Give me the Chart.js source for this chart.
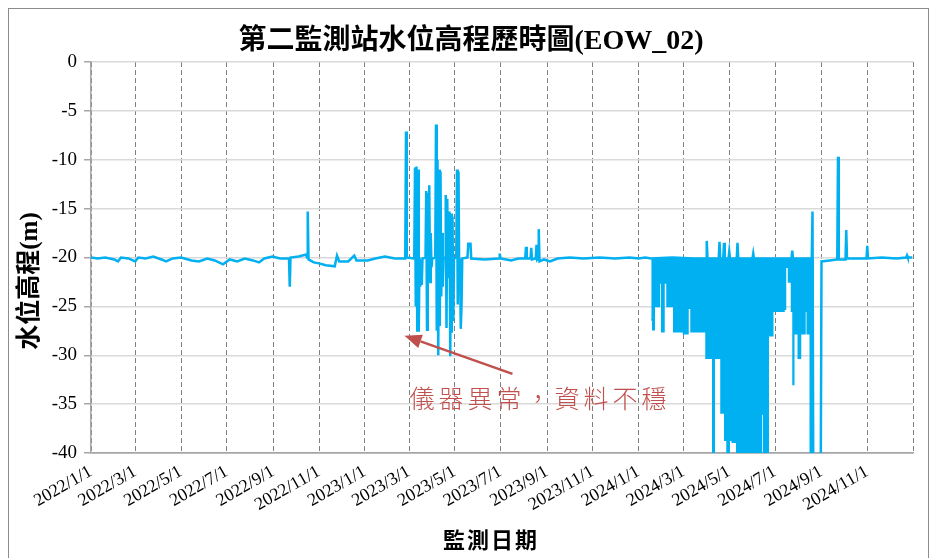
<!DOCTYPE html>
<html>
<head>
<meta charset="utf-8">
<script src="https://cdn.jsdelivr.net/npm/chart.js@4.4.1/dist/chart.umd.min.js"></script>
<style>
  html, body { margin: 0; padding: 0; background: #fff; }
  #wrap { position: relative; width: 934px; height: 558px; overflow: hidden; }
  #frame { position: absolute; left: 8px; top: 8px; width: 921px; height: 600px; border: 1px solid #8c8c8c; box-sizing: border-box; }
  canvas { position: absolute; left: 0; top: 0; }
</style>
</head>
<body>
<div id="wrap">
  <div id="frame"></div>
  <canvas id="wl" width="934" height="558"></canvas>
</div>
<script>
// EOW_02 water level record, 2022-2024
const monthTicks = ['2022/1/1', '2022/3/1', '2022/5/1', '2022/7/1', '2022/9/1', '2022/11/1',
  '2023/1/1', '2023/3/1', '2023/5/1', '2023/7/1', '2023/9/1', '2023/11/1',
  '2024/1/1', '2024/3/1', '2024/5/1', '2024/7/1', '2024/9/1', '2024/11/1', '2025/1/1'];

const dates2022 = [
  '2022-01-01', '2022-01-10', '2022-01-20', '2022-02-01', '2022-02-06', '2022-02-10', '2022-02-20',
  '2022-03-01', '2022-03-05', '2022-03-15', '2022-03-25', '2022-04-05', '2022-04-11', '2022-04-20',
  '2022-05-01', '2022-05-15', '2022-05-25', '2022-06-05', '2022-06-15', '2022-06-26', '2022-07-05',
  '2022-07-15', '2022-07-25', '2022-08-05', '2022-08-13', '2022-08-20', '2022-08-31', '2022-09-10',
  '2022-09-22', '2022-09-23', '2022-09-24', '2022-10-05', '2022-10-15', '2022-10-16', '2022-10-17',
  '2022-10-18', '2022-10-25', '2022-11-01', '2022-11-10', '2022-11-22', '2022-11-25', '2022-11-28',
  '2022-12-10', '2022-12-18', '2022-12-21'];
const level2022 = [
  -20.0, -20.1, -20.0, -20.2, -20.4, -20.0, -20.1,
  -20.4, -20.0, -20.1, -19.9, -20.2, -20.4, -20.1,
  -20.0, -20.3, -20.4, -20.1, -20.3, -20.7, -20.2,
  -20.4, -20.1, -20.3, -20.5, -20.1, -19.9, -20.1,
  -20.1, -23.0, -20.0, -19.9, -19.7, -20.0, -15.3,
  -20.2, -20.5, -20.6, -20.8, -20.9, -19.8, -20.4,
  -20.4, -19.8, -20.3];

const dates2023 = [
  '2023-01-05', '2023-01-15', '2023-01-28', '2023-02-10', '2023-02-24', '2023-02-25', '2023-02-26',
  '2023-03-08', '2023-03-09', '2023-03-10', '2023-03-11', '2023-03-12', '2023-03-13', '2023-03-14',
  '2023-03-15', '2023-03-16', '2023-03-17', '2023-03-18', '2023-03-19', '2023-03-23', '2023-03-24',
  '2023-03-25', '2023-03-26', '2023-03-27', '2023-03-28', '2023-03-29', '2023-03-30', '2023-03-31',
  '2023-04-01', '2023-04-05', '2023-04-06', '2023-04-07', '2023-04-08', '2023-04-09', '2023-04-10',
  '2023-04-11', '2023-04-12', '2023-04-13', '2023-04-14', '2023-04-15', '2023-04-16', '2023-04-18',
  '2023-04-19', '2023-04-20', '2023-04-21', '2023-04-22', '2023-04-23', '2023-04-24', '2023-04-25',
  '2023-04-26', '2023-04-27', '2023-04-28', '2023-04-29', '2023-04-30', '2023-05-03', '2023-05-04',
  '2023-05-05', '2023-05-06', '2023-05-07', '2023-05-08', '2023-05-09', '2023-05-10', '2023-05-11',
  '2023-05-18', '2023-05-19', '2023-05-22', '2023-05-23', '2023-06-10', '2023-06-29', '2023-06-30',
  '2023-07-01', '2023-07-15', '2023-07-25', '2023-08-03', '2023-08-04', '2023-08-05', '2023-08-10',
  '2023-08-11', '2023-08-12', '2023-08-17', '2023-08-18', '2023-08-19', '2023-08-20', '2023-08-21',
  '2023-08-22', '2023-08-28', '2023-09-05', '2023-09-15', '2023-10-01', '2023-10-20', '2023-11-10',
  '2023-12-01', '2023-12-20'];
const level2023 = [
  -20.3, -20.1, -19.9, -20.1, -20.1, -7.1, -20.0,
  -20.1, -10.8, -25.0, -10.7, -27.6, -11.0, -27.6,
  -20.0, -23.0, -20.2, -22.8, -20.1, -20.0, -13.2,
  -27.4, -13.4, -22.0, -12.6, -22.5, -17.5, -21.0,
  -20.1, -20.0, -6.4, -27.5, -10.0, -30.0, -11.0,
  -27.0, -11.2, -24.0, -17.5, -23.0, -20.1, -20.0,
  -13.6, -27.2, -14.0, -22.0, -20.0, -15.3, -30.1,
  -15.5, -27.7, -15.8, -26.5, -20.1, -20.0, -11.0,
  -24.8, -11.2, -22.5, -20.1, -27.3, -25.0, -20.1,
  -20.0, -18.6, -18.6, -20.1, -20.2, -20.1, -19.6,
  -20.1, -20.3, -20.1, -20.1, -18.9, -20.1, -20.1,
  -19.0, -20.2, -20.1, -18.7, -20.2, -20.1, -17.1,
  -20.4, -20.2, -20.4, -20.1, -20.0, -20.1, -20.0,
  -20.1, -20.0];

const dates2024 = [
  '2024-01-01', '2024-01-10', '2024-01-18', '2024-02-15', '2024-03-15', '2024-03-31', '2024-04-01',
  '2024-04-02', '2024-04-17', '2024-04-18', '2024-04-19', '2024-04-23', '2024-04-24', '2024-04-25',
  '2024-04-30', '2024-05-01', '2024-05-02', '2024-05-11', '2024-05-12', '2024-05-13', '2024-06-01',
  '2024-06-02', '2024-06-03', '2024-07-23', '2024-07-24', '2024-07-25', '2024-08-19', '2024-08-20',
  '2024-08-21', '2024-08-31', '2024-09-01', '2024-09-12', '2024-09-22', '2024-09-23', '2024-09-24',
  '2024-10-03', '2024-10-04', '2024-10-05', '2024-10-31', '2024-11-01', '2024-11-02', '2024-11-20',
  '2024-12-10', '2024-12-23', '2024-12-24', '2024-12-25', '2024-12-31'];
const level2024 = [
  -20.1, -20.0, -20.1, -20.0, -20.1, -20.1, -18.3,
  -20.1, -20.1, -18.4, -20.1, -20.1, -18.5, -20.1,
  -20.1, -19.4, -20.1, -20.1, -18.5, -20.1, -20.1,
  -19.6, -20.1, -20.1, -19.3, -20.1, -20.1, -15.3,
  -42.0, -42.0, -20.4, -20.3, -20.2, -9.7, -20.2,
  -20.2, -17.2, -20.1, -20.1, -18.8, -20.1, -20.0,
  -20.1, -20.0, -19.8, -20.0, -20.0];

// daily minimum while the sensor was unstable (Jan-Aug 2024),
// each value holds from its date until the next one
const lowDates2024 = [
  '2024-01-18', '2024-01-20', '2024-01-22', '2024-01-29', '2024-02-01', '2024-02-04', '2024-02-08',
  '2024-02-17', '2024-03-01', '2024-03-03', '2024-03-05', '2024-03-07', '2024-03-11', '2024-03-31',
  '2024-04-09', '2024-04-11', '2024-04-20', '2024-04-25', '2024-04-28', '2024-05-01', '2024-05-05',
  '2024-05-11', '2024-06-13', '2024-06-16', '2024-06-22', '2024-06-28', '2024-07-13', '2024-07-14',
  '2024-07-15', '2024-07-19', '2024-07-23', '2024-07-25', '2024-07-26', '2024-07-28', '2024-08-01',
  '2024-08-04', '2024-08-10', '2024-08-13', '2024-08-17', '2024-08-21'];
const lowLevel2024 = [
  -26.4, -27.4, -25.0, -22.6, -27.6, -22.6, -25.0,
  -27.6, -27.8, -25.2, -27.8, -25.2, -27.6, -30.3,
  -41.0, -30.3, -35.9, -38.7, -41.0, -38.7, -38.9,
  -41.0, -36.0, -41.0, -28.0, -25.5, -21.0, -25.3,
  -21.0, -22.5, -25.5, -33.0, -25.5, -27.8, -30.3,
  -27.8, -25.5, -27.8, -41.0, -20.1];

const chartTitle = '第二監測站水位高程歷時圖(EOW_02)';
const yTitle = '水位高程(m)';
const xTitle = '監測日期';
const noteText = '儀器異常，資料不穩';
const notePos = ['2023-08-20', -34.4];
const arrowTail = ['2023-07-17', -31.9];
const arrowHead = ['2023-02-23', -28.0];

const DAY0 = Date.UTC(2022, 0, 1);
function dayOf(s) {
  const p = s.split(/[-\/]/).map(Number);
  return (Date.UTC(p[0], p[1] - 1, p[2]) - DAY0) / 864e5;
}
function pts(ds, vs) {
  return ds.map((d, i) => ({x: dayOf(d), y: vs[i]}));
}

const BLUE = '#00b0f0';
const NUM_FONT = '"Liberation Serif", "Times New Roman", serif';

const textLayer = {
  id: 'textLayer',
  afterDraw(chart) {
    const {ctx, scales: {x, y}} = chart;
    ctx.save();
    ctx.fillStyle = '#000';
    ctx.textAlign = 'center';
    ctx.textBaseline = 'middle';
    ctx.font = 'bold 28px "Liberation Serif", "Noto Sans CJK TC"';
    ctx.fillText(chartTitle, 471, 42);

    ctx.font = 'bold 22px "Noto Sans CJK TC"';
    ctx.letterSpacing = '2px';
    ctx.fillText(xTitle, 491, 540);
    ctx.letterSpacing = '0px';

    ctx.save();
    ctx.translate(31, 281);
    ctx.rotate(-Math.PI / 2);
    ctx.font = 'bold 25px "Liberation Serif", "Noto Sans CJK TC"';
    ctx.fillText(yTitle, 0, 0);
    ctx.restore();

    // note + arrow pointing at the unstable stretch
    const red = '#c0504d';
    const tx = x.getPixelForValue(dayOf(arrowTail[0])), ty = y.getPixelForValue(arrowTail[1]);
    const hx = x.getPixelForValue(dayOf(arrowHead[0])), hy = y.getPixelForValue(arrowHead[1]);
    const ang = Math.atan2(hy - ty, hx - tx);
    const hl = 17, hw = 7;
    const bx = hx - hl * Math.cos(ang), by = hy - hl * Math.sin(ang);
    ctx.strokeStyle = red;
    ctx.lineWidth = 2.5;
    ctx.beginPath();
    ctx.moveTo(tx, ty);
    ctx.lineTo(bx, by);
    ctx.stroke();
    ctx.fillStyle = red;
    ctx.beginPath();
    ctx.moveTo(hx, hy);
    ctx.lineTo(bx + hw * Math.sin(ang), by - hw * Math.cos(ang));
    ctx.lineTo(bx - hw * Math.sin(ang), by + hw * Math.cos(ang));
    ctx.closePath();
    ctx.fill();

    ctx.font = '300 25px "Noto Sans CJK TC"';
    ctx.letterSpacing = '4px';
    ctx.fillText(noteText, x.getPixelForValue(dayOf(notePos[0])) + 2, y.getPixelForValue(notePos[1]));
    ctx.restore();
  }
};

new Chart(document.getElementById('wl').getContext('2d'), {
  type: 'line',
  data: {
    datasets: [
      {
        data: pts(lowDates2024, lowLevel2024),
        stepped: 'before',
        borderColor: BLUE,
        backgroundColor: BLUE,
        borderWidth: 1.5,
        fill: {value: -20.1},
        pointRadius: 0
      },
      {
        data: pts(dates2022, level2022).concat(pts(dates2023, level2023), pts(dates2024, level2024)),
        borderColor: BLUE,
        borderWidth: 2.5,
        fill: false,
        tension: 0,
        pointRadius: 0
      }
    ]
  },
  options: {
    responsive: false,
    animation: false,
    layout: {padding: {left: 12, right: 21, top: 62, bottom: 4}},
    plugins: {legend: {display: false}, tooltip: {enabled: false}, title: {display: false}},
    scales: {
      x: {
        type: 'linear',
        min: 0,
        max: dayOf('2025/1/1'),
        afterBuildTicks: s => { s.ticks = monthTicks.map(t => ({value: dayOf(t)})); },
        afterFit: s => { s.height = 558 - 453 - 4; },
        ticks: {
          autoSkip: false,
          minRotation: 30,
          maxRotation: 30,
          padding: 8,
          color: '#000',
          font: {family: NUM_FONT, size: 18},
          callback: (v, i) => i < monthTicks.length - 1 ? monthTicks[i] : ''
        },
        grid: {color: '#7f7f7f', lineWidth: 1, drawTicks: false},
        border: {color: '#a6a6a6', width: 1.5, dash: [5, 3]}
      },
      y: {
        min: -40,
        max: 0,
        afterFit: s => { s.width = 91 - 12; },
        ticks: {
          stepSize: 5,
          padding: 7,
          color: '#000',
          font: {family: NUM_FONT, size: 19}
        },
        grid: {
          color: c => c.tick && c.tick.value === -40 ? '#a6a6a6' : '#d9d9d9',
          lineWidth: 1.5,
          tickLength: 7,
          tickColor: '#a6a6a6'
        },
        border: {color: '#a6a6a6', width: 1.5}
      }
    }
  },
  plugins: [textLayer]
});
</script>
</body>
</html>
